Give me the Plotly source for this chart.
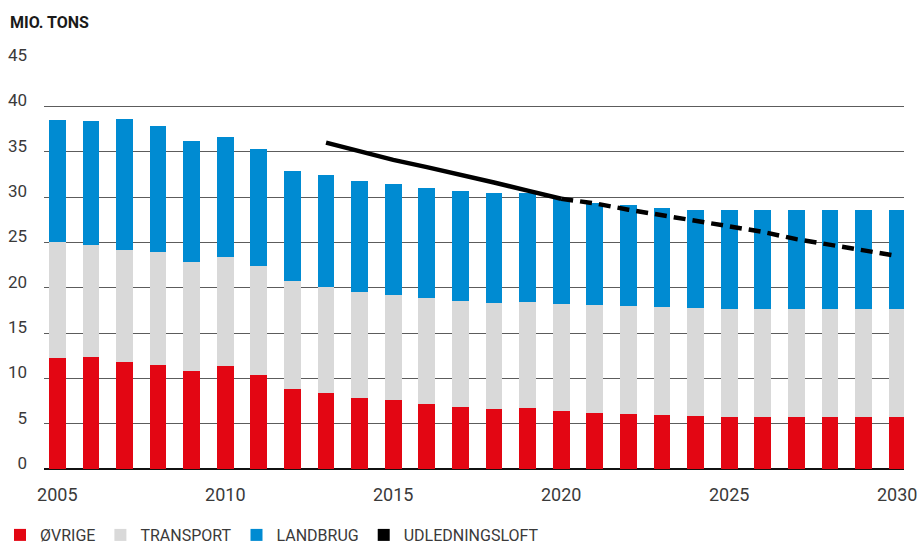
import plotly.graph_objects as go

years = list(range(2005, 2031))
ovrige = [12.2, 12.3, 11.8, 11.5, 10.8, 11.35, 10.4, 8.8, 8.4, 7.8, 7.6, 7.2, 6.85, 6.6, 6.7, 6.4,
          6.2, 6.05, 5.95, 5.85, 5.75, 5.75, 5.75, 5.75, 5.75, 5.75]
transport = [12.8, 12.4, 12.3, 12.4, 12.0, 12.05, 12.0, 11.9, 11.7, 11.7, 11.6, 11.65, 11.65, 11.7, 11.7, 11.8,
             11.9, 11.9, 11.9, 11.9, 11.9, 11.9, 11.9, 11.9, 11.9, 11.9]
landbrug = [13.5, 13.7, 14.5, 13.9, 13.4, 13.2, 12.9, 12.2, 12.3, 12.25, 12.2, 12.15, 12.15, 12.1, 12.0, 11.6,
            11.2, 11.15, 10.95, 10.8, 10.9, 10.9, 10.9, 10.9, 10.9, 10.9]

loft_years_solid = [2013, 2014, 2015, 2016, 2017, 2018, 2019, 2020]
loft_solid = [36.0, 35.0, 34.1, 33.3, 32.5, 31.6, 30.7, 29.8]
loft_years_dash = [2020, 2021, 2022, 2023, 2024, 2025, 2026, 2027, 2028, 2029, 2030]
loft_dash = [29.8, 29.3, 28.6, 28.0, 27.35, 26.7, 26.15, 25.35, 24.7, 24.15, 23.5]

xtick_vals = [2005, 2010, 2015, 2020, 2025, 2030]
ytick_vals = [0, 5, 10, 15, 20, 25, 30, 35, 40, 45]

RED = "#E30613"
GREY = "#D9D9D9"
BLUE = "#008BD2"
BLACK = "#000000"
TXT = "#3a3a3a"
FONT = "Roboto"

fig = go.Figure()
fig.add_trace(go.Bar(x=years, y=ovrige, name="ØVRIGE", marker=dict(color=RED, line=dict(width=0))))
fig.add_trace(go.Bar(x=years, y=transport, name="TRANSPORT", marker=dict(color=GREY, line=dict(width=0))))
fig.add_trace(go.Bar(x=years, y=landbrug, name="LANDBRUG", marker=dict(color=BLUE, line=dict(width=0))))
fig.add_trace(go.Scatter(x=loft_years_solid, y=loft_solid, mode="lines", showlegend=False,
                         line=dict(color=BLACK, width=4.5), hoverinfo="skip"))
fig.add_trace(go.Scatter(x=loft_years_dash, y=loft_dash, mode="lines", showlegend=False,
                         line=dict(color=BLACK, width=4.5, dash="12px,7px"), hoverinfo="skip"))
# legend swatch for the line (square, as in the reference)
fig.add_trace(go.Bar(x=[None], y=[None], name="UDLEDNINGSLOFT", marker=dict(color=BLACK, line=dict(width=0))))

fig.update_layout(
    width=917, height=546,
    barmode="stack", bargap=0.5,
    plot_bgcolor="white", paper_bgcolor="white",
    margin=dict(l=44, r=0, t=61, b=77),
    font=dict(family=FONT, size=17, color=TXT),
    title=dict(text="<b>MIO. TONS</b>", x=10/917, xref="container", xanchor="left",
               y=1-22/546, yref="container", yanchor="middle",
               font=dict(family=FONT, size=16, color="#1a1a1a")),
    legend=dict(orientation="h", xref="container", yref="container", x=-8/917, xanchor="left",
                y=1-535/546, yanchor="middle", font=dict(family=FONT, size=16, color=TXT),
                itemclick=False, traceorder="normal", tracegroupgap=0),
    showlegend=True,
)
fig.update_xaxes(range=[2004.604, 2030.204], tickvals=xtick_vals, ticktext=[str(v) for v in xtick_vals],
                 showgrid=False, zeroline=False, showline=False, ticks="",
                 ticklabelstandoff=13, ticklabeloverflow="allow", tickfont=dict(size=18, color=TXT))
fig.update_yaxes(range=[0, 45], tickvals=ytick_vals, showgrid=True, gridcolor="#5c5c5c", gridwidth=1.2,
                 zeroline=True, zerolinecolor="#111", zerolinewidth=1.5, showline=False, ticks="",
                 ticklabelposition="outside top", ticklabelstandoff=16, ticklabelshift=6,
                 tickfont=dict(size=17, color=TXT))

fig.write_html("out.html", config={"displayModeBar": False},
               post_script="document.body.style.margin='0';document.body.style.overflow='hidden';")
